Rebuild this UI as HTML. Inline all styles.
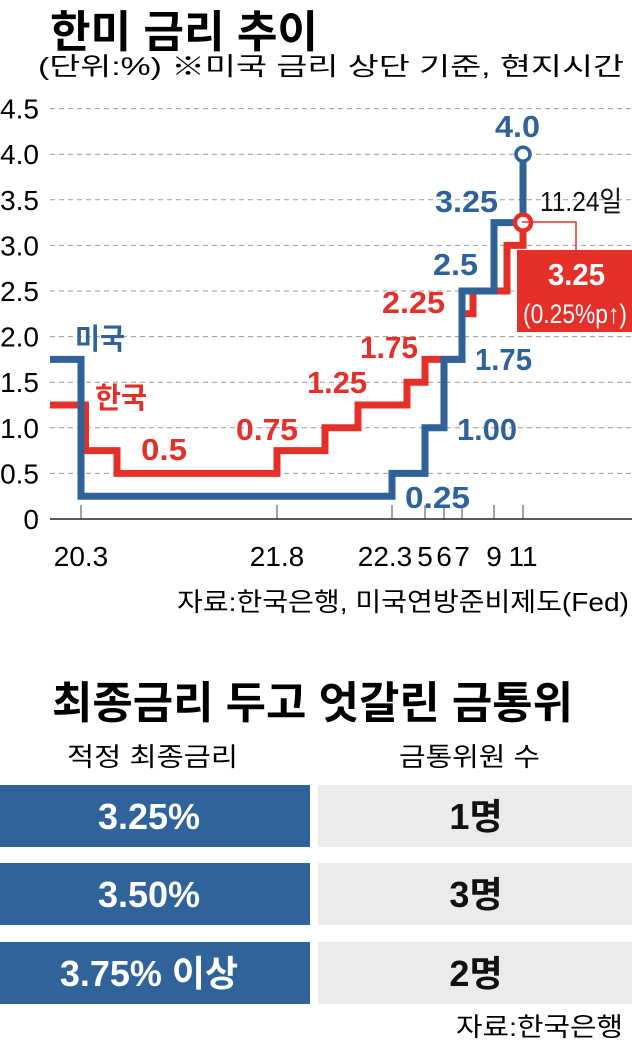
<!DOCTYPE html>
<html><head><meta charset="utf-8"><style>
html,body{margin:0;padding:0;background:#fff;}
svg{display:block;}
text{font-family:"Liberation Sans Narrow","Liberation Sans","Noto Sans CJK KR",sans-serif;}
</style></head><body>
<svg id="chart" width="632" height="1046" viewBox="0 0 632 1046" xmlns="http://www.w3.org/2000/svg">
<text x="50" y="47" font-size="44" font-weight="bold" textLength="268" lengthAdjust="spacingAndGlyphs">한미 금리 추이</text>
<text x="38" y="75" font-size="25" textLength="586" lengthAdjust="spacingAndGlyphs">(단위:%)  ※미국 금리 상단 기준, 현지시간</text>
<g id="grid"></g>
<g id="yaxis"></g>
<g id="xaxis"></g>
<g id="series"></g>
<g font-weight="bold" font-size="31">
<text x="75" y="349" fill="#2e6299" font-size="29" textLength="50" lengthAdjust="spacingAndGlyphs">미국</text>
<text x="95" y="408" fill="#e5302a" font-size="29" textLength="52" lengthAdjust="spacingAndGlyphs">한국</text>
<text x="141" y="460" fill="#e5302a" textLength="46" lengthAdjust="spacingAndGlyphs">0.5</text>
<text x="236" y="440" fill="#e5302a" textLength="62" lengthAdjust="spacingAndGlyphs">0.75</text>
<text x="307" y="393" fill="#e5302a" textLength="60" lengthAdjust="spacingAndGlyphs">1.25</text>
<text x="360" y="358" fill="#e5302a" textLength="58" lengthAdjust="spacingAndGlyphs">1.75</text>
<text x="382" y="313" fill="#e5302a" textLength="63" lengthAdjust="spacingAndGlyphs">2.25</text>
<text x="405" y="508" fill="#2e6299" textLength="65" lengthAdjust="spacingAndGlyphs">0.25</text>
<text x="457" y="440" fill="#2e6299" textLength="60" lengthAdjust="spacingAndGlyphs">1.00</text>
<text x="475" y="370" fill="#2e6299" textLength="57" lengthAdjust="spacingAndGlyphs">1.75</text>
<text x="433" y="275" fill="#2e6299" textLength="45" lengthAdjust="spacingAndGlyphs">2.5</text>
<text x="435" y="212" fill="#2e6299" textLength="63" lengthAdjust="spacingAndGlyphs">3.25</text>
<text x="495" y="137" fill="#2e6299" textLength="45" lengthAdjust="spacingAndGlyphs">4.0</text>
<text x="540" y="211" fill="#111" font-weight="normal" font-size="28" textLength="82" lengthAdjust="spacingAndGlyphs">11.24일</text>
<polyline points="522,222 576,222 576,250" fill="none" stroke="#e5302a" stroke-width="1.5"/>
<rect x="517" y="250" width="115" height="82" fill="#e5302a"/>
<text x="548" y="285" fill="#fff" font-size="31" textLength="57" lengthAdjust="spacingAndGlyphs">3.25</text>
<text x="523" y="323" fill="#fff" font-weight="normal" font-size="27" textLength="104" lengthAdjust="spacingAndGlyphs">(0.25%p↑)</text>
</g>
<text x="177" y="611" font-size="26" textLength="452" lengthAdjust="spacingAndGlyphs">자료:한국은행, 미국연방준비제도(Fed)</text>

<text x="52" y="718" font-size="44" font-weight="bold" textLength="521" lengthAdjust="spacingAndGlyphs">최종금리 두고 엇갈린 금통위</text>
<text x="67" y="766" font-size="26" textLength="171" lengthAdjust="spacingAndGlyphs">적정 최종금리</text>
<text x="399" y="766" font-size="26" textLength="141" lengthAdjust="spacingAndGlyphs">금통위원 수</text>
<g id="table"></g>
<text x="456" y="1036" font-size="26" textLength="167" lengthAdjust="spacingAndGlyphs">자료:한국은행</text>
</svg>
<script>
// ---- chart data ----
const yTicks = [0, 0.5, 1.0, 1.5, 2.0, 2.5, 3.0, 3.5, 4.0, 4.5];
const yTickLabels = ['0','0.5','1.0','1.5','2.0','2.5','3.0','3.5','4.0','4.5'];
const xTickDates = ['20.3','21.8','22.3','22.5','22.6','22.7','22.9','22.11'];
const xTickLabels = ['20.3','21.8','22.3','5','6','7','9','11'];
const usStart = 1.75;
const usDates = ['20.3','22.3','22.5','22.6','22.7','22.9','22.11'];
const usValues = [0.25, 0.5, 1.0, 1.75, 2.5, 3.25, 4.0];
const krStart = 1.25;
const krDates = ['20.3.16','20.5','21.8','21.11','22.1','22.4','22.5','22.7','22.8','22.10','22.11'];
const krValues = [0.75, 0.5, 0.75, 1.0, 1.25, 1.5, 1.75, 2.25, 2.5, 3.0, 3.25];
const tableRates = ['3.25%','3.50%','3.75% 이상'];
const tableCounts = ['1명','3명','2명'];

// ---- scales ----
const Y0 = 519, PX_PER_UNIT = 91.2, XL = 50, XR = 632;
function y(v){ return Y0 - v * PX_PER_UNIT; }
function mIdx(d){ const p = d.split('.'); let m = (parseInt(p[0]) - 20) * 12 + parseInt(p[1]); if (p[2]) m += (parseInt(p[2]) - 1) / 60; return m; }
// piecewise (non-linear) time axis knots: [month index, px]
const knots = [[3,81],[5,117],[20,277],[23,325],[25,358],[27,392],[28,407],[29,425],[30,444],[31,462],[32,473],[33,494],[34,507],[35,523]];
function x(d){
  const m = mIdx(d);
  if (m <= knots[0][0]) return knots[0][1];
  for (let i = 1; i < knots.length; i++){
    if (m <= knots[i][0]){
      const a = knots[i-1], b = knots[i];
      return a[1] + (m - a[0]) / (b[0] - a[0]) * (b[1] - a[1]);
    }
  }
  return knots[knots.length-1][1];
}
const NS = 'http://www.w3.org/2000/svg';
function mk(tag, attrs, parent){ const e = document.createElementNS(NS, tag); for (const k in attrs) e.setAttribute(k, attrs[k]); parent.appendChild(e); return e; }

const grid = document.getElementById('grid'), yaxis = document.getElementById('yaxis'), xaxis = document.getElementById('xaxis'), series = document.getElementById('series'), table = document.getElementById('table');
yTicks.forEach((v, i) => {
  if (v > 0){
    const g = mk('line', {x1: XL, x2: XR, y1: y(v), y2: y(v), stroke: '#9a9a9a', 'stroke-width': 1, 'stroke-dasharray': '5 4'}, grid);
    
    
  }
  const t = mk('text', {x: 39, y: y(v) + 10, 'text-anchor': 'end', 'font-size': 28}, yaxis);
  t.textContent = yTickLabels[i];
  
  
});
const ax = mk('line', {x1: XL, x2: XR, y1: Y0, y2: Y0, stroke: '#222', 'stroke-width': 1.5}, xaxis);


xTickDates.forEach((d, i) => {
  const tk = mk('line', {x1: x(d), x2: x(d), y1: Y0 - 14, y2: Y0, stroke: '#444', 'stroke-width': 1}, xaxis);
  
  
  const off = (xTickLabels[i] === '22.3') ? -7 : 0;
  const t = mk('text', {x: x(d) + off, y: 566, 'text-anchor': 'middle', 'font-size': 28}, xaxis);
  t.textContent = xTickLabels[i];
  
  
});
function stepPath(start, dates, vals){
  let p = 'M' + XL + ' ' + y(start);
  let cur = start;
  dates.forEach((d, i) => { p += ' L' + x(d) + ' ' + y(cur) + ' L' + x(d) + ' ' + y(vals[i]); cur = vals[i]; });
  return p;
}
const kr = mk('path', {d: stepPath(krStart, krDates, krValues), fill: 'none', stroke: '#e5302a', 'stroke-width': 7, 'stroke-linejoin': 'miter'}, series);


const us = mk('path', {d: stepPath(usStart, usDates, usValues), fill: 'none', stroke: '#2e6299', 'stroke-width': 7, 'stroke-linejoin': 'miter'}, series);


const usEnd = usDates[usDates.length-1], krEnd = krDates[krDates.length-1];
const uc = mk('circle', {cx: x(usEnd), cy: y(usValues[usValues.length-1]), r: 7, fill: '#fff', stroke: '#2e6299', 'stroke-width': 3.5}, series);


const kc = mk('circle', {cx: x(krEnd), cy: y(krValues[krValues.length-1]), r: 8, fill: '#fff', stroke: '#e5302a', 'stroke-width': 4.5}, series);



// ---- table ----
const rowTops = [785, 863, 942];
tableRates.forEach((r, i) => {
  const top = rowTops[i];
  const b = mk('rect', {x: 0, y: top, width: 310, height: 62, fill: '#2f6399'}, table);
  
  
  const g = mk('rect', {x: 318, y: top, width: 314, height: 62, fill: '#ebebeb'}, table);
  
  
  const t1 = mk('text', {x: 149, y: top + 44, 'text-anchor': 'middle', fill: '#fff', 'font-size': 36, 'font-weight': 'bold'}, table);
  t1.textContent = r;
  
  
  const t2 = mk('text', {x: 476, y: top + 44, 'text-anchor': 'middle', fill: '#111', 'font-size': 36, 'font-weight': 'bold'}, table);
  t2.textContent = tableCounts[i];
  
  
});
</script>
</body></html>
